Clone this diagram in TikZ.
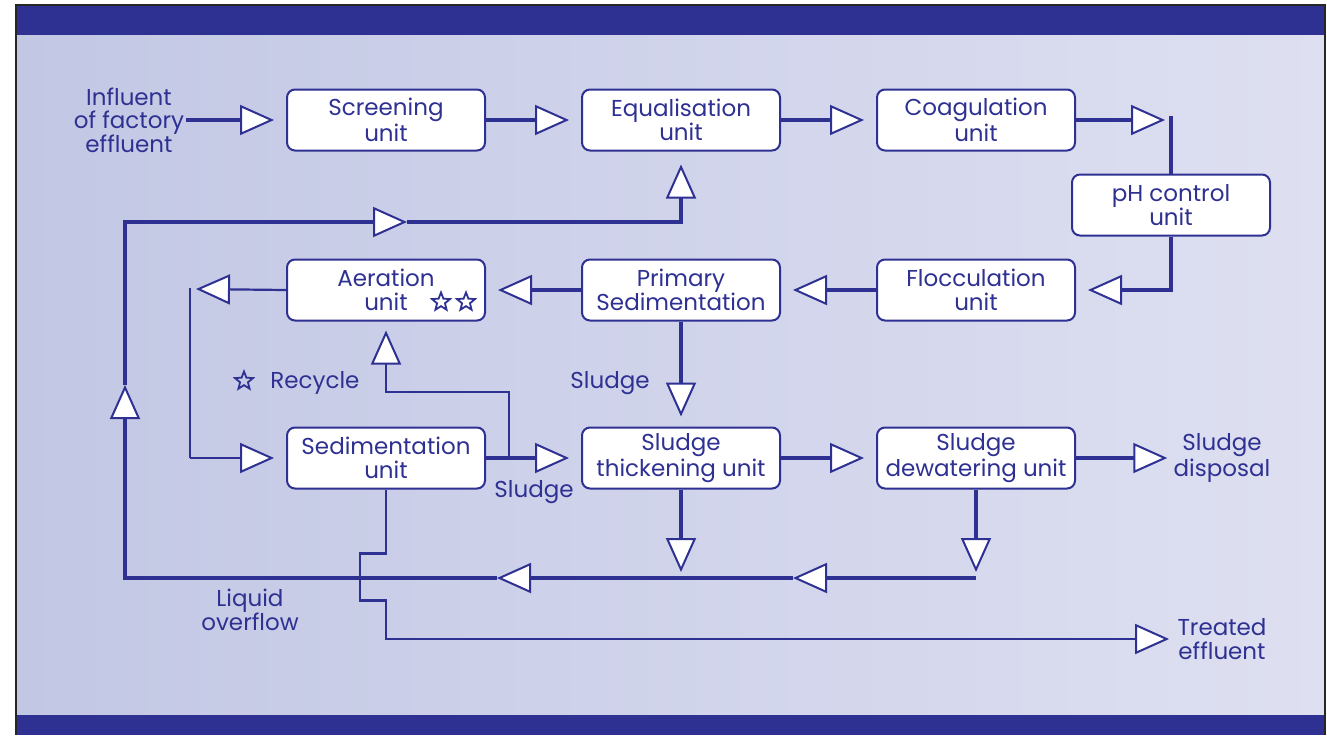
\documentclass[tikz,border=0pt]{standalone}
\usepackage{fontspec}
\setmainfont{Poppins}
\usetikzlibrary{arrows.meta,positioning,shapes.geometric}
\definecolor{navy}{RGB}{46,49,146}
\definecolor{bgleft}{RGB}{194,199,228}
\definecolor{bgright}{RGB}{222,224,241}
\begin{document}
\begin{tikzpicture}[x=0.5pt,y=-0.5pt,
    unit/.style={draw=navy,line width=1pt,fill=white,rounded corners=4pt,
        minimum width=99pt,minimum height=30.5pt,align=center,inner sep=1pt,
        font=\fontsize{11.5}{11.8}\selectfont,text=navy},
    lbl/.style={align=center,inner sep=1pt,font=\fontsize{11.5}{11.8}\selectfont,text=navy},
    starmark/.style={star,star points=5,star point ratio=2.3,minimum size=9.5pt,
        inner sep=0pt,draw=navy,line width=0.9pt},
    tip/.style={-{Triangle[open,fill=white,length=17pt,width=15pt,line width=1pt]}},
    flow/.style={draw=navy,line width=2pt},
    thinflow/.style={draw=navy,line width=1.1pt}]
    \useasboundingbox (0,0) rectangle (1327,735);

    % panel and bars
    \fill[white] (0,0) rectangle (1327,735);
    \shade[left color=bgleft,right color=bgright] (16,35) rectangle (1325,715);
    \fill[navy] (16,5) rectangle (1325,35);
    \fill[navy] (16,715) rectangle (1325,735);
    \draw[black!85,line width=1pt] (16,735) -- (16,5) -- (1325,5) -- (1325,735);

    % units
    \node[unit] (scr) at (386,120) {Screening\\unit};
    \node[unit] (equ) at (681,120) {Equalisation\\unit};
    \node[unit] (coa) at (976,120) {Coagulation\\unit};
    \node[unit] (ph)  at (1171,205) {pH control\\unit};
    \node[unit] (flo) at (976,290) {Flocculation\\unit};
    \node[unit] (pri) at (681,290) {Primary\\Sedimentation};
    \node[unit] (aer) at (386,290) {Aeration\\unit};
    \node[unit] (sed) at (386,458) {Sedimentation\\unit};
    \node[unit] (thk) at (681,458) {Sludge\\thickening unit};
    \node[unit] (dew) at (976,458) {Sludge\\dewatering unit};

    % labels
    \node[lbl] (infl)  at (129,120) {Influent\\of factory\\effluent};
    \node[lbl] (disp)  at (1222,458) {Sludge\\disposal};
    \node[lbl] (treat) at (1222,639) {Treated\\effluent};
    \node[lbl] (liq)   at (250,610) {Liquid\\overflow};
    \node[lbl] (sl1)   at (534,492) {Sludge};
    \node[lbl] (sl2)   at (610,383) {Sludge};
    \node[lbl,anchor=west] (rec) at (268,383) {Recycle};
    \node[starmark] (recstar) at (244,381) {};
    \node[starmark] (aerstar1) at (441,302) {};
    \node[starmark] (aerstar2) at (466,302) {};

    % return loop corners and mid tips
    \coordinate (ret1) at (976,578);
    \coordinate (ret2) at (125,578);
    \coordinate (ret3) at (125,222);
    \coordinate (t1) at (793,578);
    \coordinate (t2) at (497,578);
    \coordinate (t3) at (125,385);
    \coordinate (t4) at (407,222);
    \coordinate (cp) at (ph.north |- coa.east);
    \coordinate (ac) at (190,289);
    \coordinate (rb) at (509,458);

    % main line
    \draw[flow,tip] (infl.east) -- ([xshift=-6pt]scr.west);
    \draw[flow,tip] (scr.east) -- ([xshift=-6pt]equ.west);
    \draw[flow,tip] (equ.east) -- ([xshift=-6pt]coa.west);
    \draw[flow] ([yshift=2pt]cp) -- (ph.north);
    \draw[flow,tip] (coa.east) -- ([xshift=-3pt]cp);
    \draw[flow,tip] (ph.south) |- ([xshift=6pt]flo.east);
    \draw[flow,tip] (flo.west) -- ([xshift=6pt]pri.east);
    \draw[flow,tip] (pri.west) -- ([xshift=6pt]aer.east);

    % aeration to sedimentation
    \draw[thinflow] ([yshift=0.5pt]ac) -- (ac |- sed.west);
    \draw[thinflow,tip] (ac |- sed.west) -- ([xshift=-6pt]sed.west);
    \draw[thinflow,tip] (aer.west) -- ([xshift=3pt]ac);

    % sludge lines
    \draw[flow,tip] (sed.east) -- ([xshift=-6pt]thk.west);
    \draw[thinflow,tip] (rb) -- (509,392) -| ([yshift=-4.5pt]aer.south);
    \draw[flow,tip] (pri.south) -- ([yshift=5pt]thk.north);
    \draw[flow,tip] (thk.east) -- ([xshift=-6pt]dew.west);
    \draw[flow,tip] (dew.east) -- ([xshift=-2pt]disp.west);

    % liquid return
    \draw[flow,tip] (thk.south) -- ([yshift=3pt]thk.south |- ret1);
    \draw[flow,tip] (dew.south) -- ([yshift=3pt]ret1);
    \draw[flow,tip] (ret1) -- (t1);
    \draw[flow,tip] (t1) -- (t2);
    \draw[flow,tip] (t2) -- (ret2) -- (t3);
    \draw[flow,tip] (t3) -- (ret3) -- (t4);
    \draw[flow,tip] (t4) -| ([yshift=-6.5pt]equ.south);

    % treated effluent
    \draw[thinflow,tip] (sed.south) -- ++(0,64) -- ++(-26,0) -- ++(0,47) -- ++(26,0) |- ([xshift=-3pt]treat.west);
\end{tikzpicture}
\end{document}
